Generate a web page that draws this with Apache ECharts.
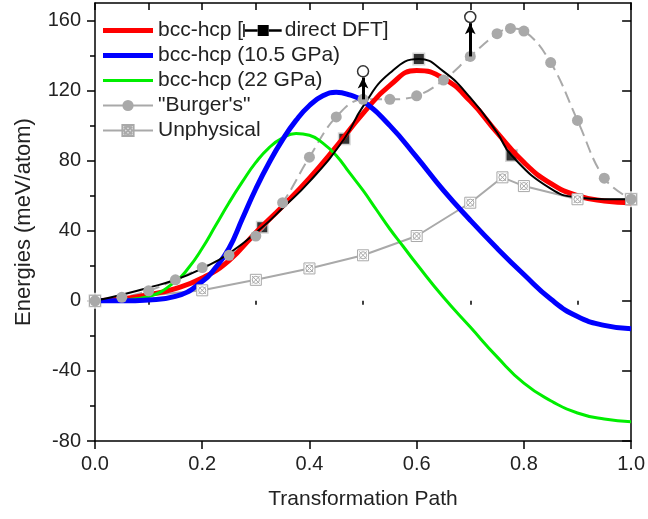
<!DOCTYPE html>
<html>
<head>
<meta charset="utf-8">
<script src="https://cdn.jsdelivr.net/npm/echarts@6/dist/echarts.min.js"></script>
<style>html,body{margin:0;padding:0;background:#fff}#c{width:648px;height:519px}</style>
</head>
<body>
<div id="c"></div>
<script>
// ---- data ----
var redX   = [0,0.05,0.1,0.15,0.2,0.25,0.3,0.35,0.4,0.45,0.5,0.55,0.6,0.65,0.7,0.75,0.8,0.85,0.9,0.95,1.0];
var redY   = [0,1,3.5,7,13,23,39,54,70,88,107,123,131.5,127,114,96,79,67,60,57,56];
var blueX  = [0,0.05,0.1,0.15,0.2,0.225,0.25,0.275,0.3,0.325,0.35,0.375,0.4,0.425,0.45,0.475,0.5,0.55,0.6,0.65,0.7,0.75,0.8,0.85,0.9,0.95,1.0];
var blueY  = [0,0,0.5,2.5,11,19,30,47,64,79,92,103,111.5,117,119,117.5,114,100,82,63,46,30,15,1,-9,-14,-16];
var greenX = [0,0.05,0.1,0.15,0.175,0.2,0.225,0.25,0.275,0.3,0.325,0.35,0.375,0.4,0.425,0.45,0.475,0.5,0.525,0.55,0.575,0.6,0.65,0.7,0.75,0.8,0.85,0.9,0.95,1.0];
var greenY = [0,0.5,2.5,11,19,30,43,56,68,79,87.5,93,95.5,94.5,90,83,73,63,52,41,31,21,2,-15,-32,-47,-57,-64,-67.5,-69];

var dftCurveX = [0,0.05,0.1,0.15,0.2,0.25,0.312,0.35,0.4,0.465,0.5,0.55,0.604,0.65,0.7,0.75,0.777,0.85,0.9,0.95,1.0];
var dftCurveY = [0,3.5,7.5,12,18.5,27,42,53,68,92.5,111,130,138,131,116,96,83,64,59,58,58];
var dftX = [0,0.312,0.465,0.604,0.777,1.0];
var dftY = [0,42,92.5,138,83,58];

var burgerX = [0,0.05,0.1,0.15,0.2,0.25,0.3,0.35,0.4,0.45,0.5,0.55,0.6,0.65,0.7,0.75,0.775,0.8,0.85,0.9,0.95,1.0];
var burgerY = [0,2,5.7,12,19,26,37,56,82,105,115,115,117,126,139.5,152.5,155.5,154,136,103,70,58];

var unphysX = [0,0.2,0.3,0.4,0.5,0.6,0.7,0.76,0.8,0.9,1.0];
var unphysY = [0,6,12,18.5,26,37,56,70.5,65.5,58,58];

var arrowX = [0.5,0.7];
var arrowBase = [115,139.5];
var arrowTip = [127.5,158.5];
var circleY = [131,162];

var xMajor = [0,0.2,0.4,0.6,0.8,1.0];
var xMinor = [0.1,0.3,0.5,0.7,0.9];
var xTop = [0,0.1,0.2,0.3,0.4,0.5,0.6,0.7,0.8,0.9,1.0];
var yMajor = [-80,-40,0,40,80,120,160];
var yMinor = [-60,-20,20,60,100,140];

var names = ['bcc-hcp [', 'bcc-hcp (10.5 GPa)', 'bcc-hcp (22 GPa)', '"Burger\'s"', 'Unphysical'];

function zip(xs, ys){ return xs.map(function(x,i){ return [x, ys[i]]; }); }

var FONT = 'Liberation Sans';
var GRAY = '#a9a9a9';
var unphysSymbol = 'path://M0,0H20V20H0Z M3,3L17,17 M17,3L3,17 M16.5,10A6.5,6.5,0,1,1,3.5,10A6.5,6.5,0,1,1,16.5,10';

var chart = echarts.init(document.getElementById('c'), null, {renderer:'canvas'});

function xAx(pos, ticks, len, inside, labels, extra){
  var o = {
    type:'value', min:0, max:1, position:pos,
    axisLine:{show:true, onZero:false, lineStyle:{color:'#000', width:1.5}},
    axisTick:{show:true, inside:inside, length:len, customValues:ticks, lineStyle:{color:'#000', width:1.5}},
    axisLabel:{show:labels, customValues:ticks, margin:13, color:'#222', fontFamily:FONT, fontSize:20,
      formatter:function(v){ return (+v).toFixed(1); }},
    splitLine:{show:false}
  };
  for (var k in extra) o[k] = extra[k];
  return o;
}
function yAx(pos, ticks, len, inside, labels, extra){
  var o = {
    type:'value', min:-80, max:170, position:pos,
    axisLine:{show:true, onZero:false, lineStyle:{color:'#000', width:1.5}},
    axisTick:{show:true, inside:inside, length:len, customValues:ticks, lineStyle:{color:'#000', width:1.5}},
    axisLabel:{show:labels, customValues:ticks, margin:14, color:'#222', fontFamily:FONT, fontSize:20},
    splitLine:{show:false}
  };
  for (var k in extra) o[k] = extra[k];
  return o;
}
function curve(name, xs, ys, color, width){
  return {name:name, type:'line', data:zip(xs, ys), smooth:0.5, symbol:'none',
    lineStyle:{color:color, width:width}, itemStyle:{color:color}};
}

var option = {
  animation:false,
  backgroundColor:'#fff',
  grid:{left:95, right:11, top:3, bottom:78},
  xAxis:[
    xAx('bottom', xMajor, 8, false, true, {name:'Transformation Path', nameLocation:'middle', nameGap:48,
      nameTextStyle:{fontFamily:FONT, fontSize:21, color:'#222'}}),
    xAx('bottom', xMinor, 4, false, false, {axisLine:{show:false}}),
    xAx('top', xTop, 7, true, false, {})
  ],
  yAxis:[
    yAx('left', yMajor, 8, false, true, {name:'Energies (meV/atom)', nameLocation:'middle', nameGap:60,
      nameTextStyle:{fontFamily:FONT, fontSize:22, color:'#222'}}),
    yAx('left', yMinor, 4, false, false, {axisLine:{show:false}}),
    yAx('right', yMajor, 9, true, false, {}),
    yAx('right', yMinor, 5, true, false, {axisLine:{show:false}})
  ],
  legend:{
    orient:'vertical', left:97, top:15, itemWidth:50, itemHeight:14, itemGap:4,
    data:[
      {name:names[0], icon:'path://M0,0H50V5H0Z'},
      {name:names[1], icon:'path://M0,0H50V5H0Z'},
      {name:names[2], icon:'path://M0,0H50V3H0Z'},
      {name:names[3], lineStyle:{type:'solid'}},
      {name:names[4]}
    ],
    textStyle:{fontFamily:FONT, fontSize:21, color:'#222',
      rich:{
        v:{width:1.5, height:13, backgroundColor:'#000', verticalAlign:'middle'},
        l:{width:13, height:2.5, backgroundColor:'#000', verticalAlign:'middle'},
        s:{width:11, height:11, backgroundColor:'#000', verticalAlign:'middle'},
        g:{width:3}
      }},
    formatter:function(n){
      if (n === names[0]) return n + '{v| }{l| }{s| }{l| }{g| }direct DFT]';
      return n;
    }
  },
  series:[
    {name:names[4], type:'line', data:zip(unphysX, unphysY), smooth:false,
     symbol:unphysSymbol, symbolSize:11, showSymbol:true,
     lineStyle:{color:GRAY, width:2}, itemStyle:{color:'#fff', borderColor:GRAY, borderWidth:1}},
    {name:names[3], type:'line', data:zip(burgerX, burgerY), smooth:0.4,
     symbol:'circle', symbolSize:11, showSymbol:true,
     lineStyle:{color:GRAY, width:2, type:[12,6]}, itemStyle:{color:GRAY}},
    curve(names[0], redX, redY, '#ff0000', 5),
    curve(names[2], greenX, greenY, '#00ee00', 3),
    curve(names[1], blueX, blueY, '#0000ff', 5),
    curve('direct DFT line', dftCurveX, dftCurveY, '#000', 2),
    {name:'direct DFT', type:'scatter', data:zip(dftX, dftY), symbol:'rect', symbolSize:13,
     itemStyle:{color:'#000', borderColor:'#fff', borderWidth:3}},
    {name:'tops', type:'scatter', data:zip(arrowX, circleY), symbol:'circle', symbolSize:11,
     itemStyle:{color:'#fff', borderColor:'#000', borderWidth:1.5}, z:5,
     markLine:{silent:true, animation:false, symbol:['none','arrow'], symbolSize:[8,11],
       label:{show:false}, lineStyle:{color:'#000', width:3, type:'solid'},
       data:arrowX.map(function(x,i){ return [{coord:[x, arrowBase[i]]},{coord:[x, arrowTip[i]]}]; })}}
  ]
};
chart.setOption(option);
</script>
</body>
</html>
